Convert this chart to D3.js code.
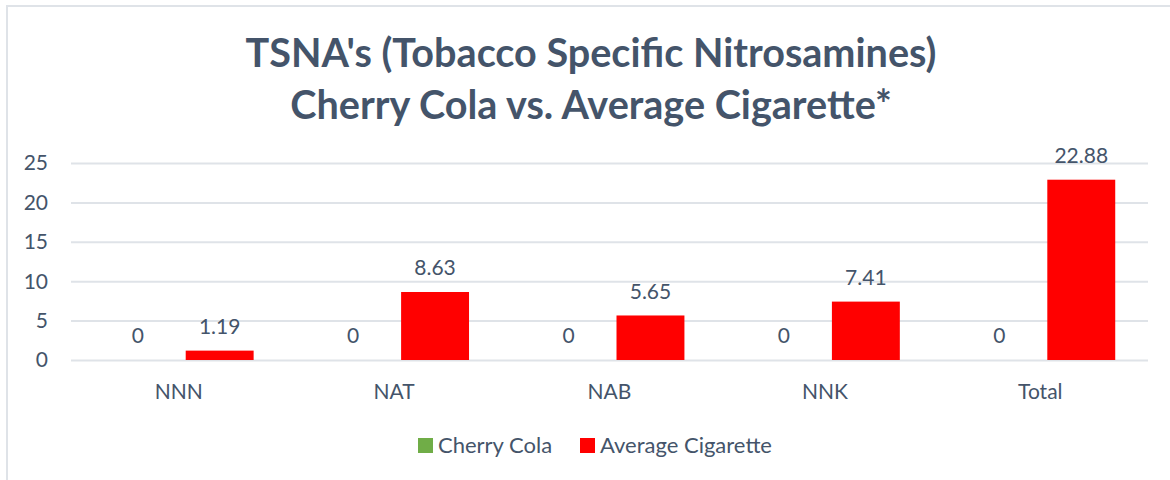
<!DOCTYPE html>
<html>
<head>
<meta charset="utf-8">
<script src="https://cdn.jsdelivr.net/npm/d3@7"></script>
<style>
  html, body { margin: 0; padding: 0; background: #fff; }
  svg { display: block; }
  text { font-family: "Lato", "Open Sans", sans-serif; fill: #44546a; }
</style>
</head>
<body>
<svg id="chart" width="1170" height="480"></svg>
<script>
const categories = ["NNN", "NAT", "NAB", "NNK", "Total"];
const seriesNames = ["Cherry Cola", "Average Cigarette"];
const cherryCola = [0, 0, 0, 0, 0];
const averageCigarette = [1.19, 8.63, 5.65, 7.41, 22.88];
const yTicks = [0, 5, 10, 15, 20, 25];
const titleLines = ["TSNA's (Tobacco Specific Nitrosamines)", "Cherry Cola vs. Average Cigarette*"];
const colors = ["#70ad47", "#ff0000"];

(function () {
const svg = d3.select("#chart");
const W = 1170, H = 480;
const fs = "21px";

// frame
svg.append("rect").attr("x", 7).attr("y", 6).attr("width", W).attr("height", H)
  .attr("fill", "#fff").attr("stroke", "#dfe3e8").attr("stroke-width", 2);

// title
svg.append("g").selectAll("text").data(titleLines).join("text")
  .attr("x", 591).attr("y", (d, i) => 67 + i * 52)
  .attr("text-anchor", "middle")
  .style("font-size", "39.6px").style("font-weight", "bold")
  .text(d => d);

const pLeft = 71, pRight = 1148, pTop = 163, pBottom = 360;
const x = d3.scaleBand().domain(categories).range([pLeft, pRight]).paddingInner(0).paddingOuter(0);
const y = d3.scaleLinear().domain([0, 25]).range([pBottom, pTop]);
const x1 = d3.scaleBand().domain(seriesNames).range([0, x.bandwidth()]).paddingInner(0.171).paddingOuter(0.4);

// gridlines
svg.append("g").attr("transform", `translate(${pLeft},0)`)
  .call(d3.axisLeft(y).tickValues(yTicks).tickSize(-(pRight - pLeft)).tickFormat(""))
  .call(g => g.select(".domain").remove())
  .call(g => g.selectAll("line").attr("stroke", "#dfe3e8").attr("stroke-width", 2));

// y tick labels
svg.append("g").selectAll("text").data(yTicks).join("text")
  .attr("x", 48).attr("y", d => y(d)).attr("dy", "0.35em")
  .attr("text-anchor", "end").style("font-size", fs)
  .text(d => d);

// x labels
svg.append("g").selectAll("text").data(categories).join("text")
  .attr("x", d => x(d) + x.bandwidth() / 2).attr("y", 392).attr("dy", "0.35em")
  .attr("text-anchor", "middle").style("font-size", fs)
  .text(d => d);

const data = categories.map((c, i) => ({ c, vals: [cherryCola[i], averageCigarette[i]] }));
const groups = svg.append("g").selectAll("g").data(data).join("g")
  .attr("transform", d => `translate(${x(d.c)},0)`);

groups.selectAll("rect").data(d => d.vals.map((v, j) => ({ v, s: seriesNames[j], j }))).join("rect")
  .attr("x", d => x1(d.s)).attr("width", x1.bandwidth())
  .attr("y", d => y(d.v)).attr("height", d => y(0) - y(d.v))
  .attr("fill", d => colors[d.j]);

groups.selectAll("text").data(d => d.vals.map((v, j) => ({ v, s: seriesNames[j], j }))).join("text")
  .attr("x", d => x1(d.s) + x1.bandwidth() / 2).attr("y", d => y(d.v) - 24).attr("dy", "0.35em")
  .attr("text-anchor", "middle").style("font-size", fs)
  .text(d => d.v);

// legend
const legendX = [418, 580];
const lg = svg.append("g").selectAll("g").data(seriesNames).join("g")
  .attr("transform", (d, i) => `translate(${legendX[i]},438)`);
lg.append("rect").attr("width", 15).attr("height", 15).attr("fill", (d, i) => colors[i]);
lg.append("text").attr("x", 20).attr("y", 7.5).attr("dy", "0.35em").style("font-size", "22px").text(d => d);
})();
</script>
</body>
</html>
